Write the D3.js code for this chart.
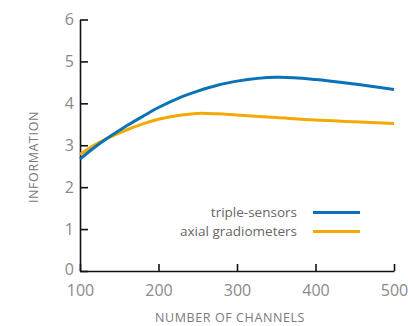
<!DOCTYPE html>
<html>
<head>
<meta charset="utf-8">
<script src="https://cdn.jsdelivr.net/npm/d3@7"></script>
<style>
  body { margin: 0; background: #fff; }
  svg { display: block; font-family: "Open Sans", sans-serif; }
</style>
</head>
<body>
<svg id="chart"></svg>
<script>
// values
var channels = [100, 120, 140, 160, 180, 200, 225, 250, 275, 300, 350, 400, 450, 500];
var tripleSensors = [2.67, 2.97, 3.23, 3.47, 3.69, 3.90, 4.12, 4.29, 4.43, 4.53, 4.62, 4.57, 4.46, 4.33];
var axialGradiometers = [2.78, 3.02, 3.21, 3.37, 3.51, 3.62, 3.71, 3.76, 3.75, 3.72, 3.66, 3.60, 3.56, 3.52];
var seriesNames = ["triple-sensors", "axial gradiometers"];
var seriesColors = ["#0a72b8", "#f2a900"];
var xTickValues = [100, 200, 300, 400, 500];
var yTickValues = [0, 1, 2, 3, 4, 5, 6];

var width = 408,
    height = 326,
    margin = {top: 19.5, right: 14, bottom: 55, left: 80};

var svg = d3.select("#chart")
    .attr("width", width)
    .attr("height", height);

var xScale = d3.scaleLinear()
    .domain([100, 500])
    .range([margin.left, width - margin.right]);

var yScale = d3.scaleLinear()
    .domain([0, 6])
    .range([height - margin.bottom, margin.top]);

var series = [tripleSensors, axialGradiometers].map(function(vals, i) {
    return {
        name: seriesNames[i],
        color: seriesColors[i],
        points: vals.map(function(v, j) { return {x: channels[j], y: v}; })
    };
});

var line = d3.line()
    .curve(d3.curveCatmullRom.alpha(0.5))
    .x(function(d) { return xScale(d.x); })
    .y(function(d) { return yScale(d.y); });

// axes
var xAxis = d3.axisBottom(xScale)
    .tickValues(xTickValues)
    .tickFormat(d3.format("d"))
    .tickSizeInner(-7)
    .tickSizeOuter(0)
    .tickPadding(14);

var yAxis = d3.axisLeft(yScale)
    .tickValues(yTickValues)
    .tickFormat(d3.format("d"))
    .tickSizeInner(-8)
    .tickSizeOuter(0)
    .tickPadding(6);

function styleAxis(g) {
    g.select(".domain").attr("stroke", "#111").attr("stroke-width", 1.6);
    g.selectAll(".tick line").attr("stroke", "#111").attr("stroke-width", 1.6);
    g.selectAll(".tick text")
        .attr("fill", "#8a8a8a")
        .style("font-size", "16px")
        .style("font-family", "'Open Sans', sans-serif");
}

svg.append("g")
    .attr("class", "x axis")
    .attr("transform", "translate(0," + yScale(0) + ")")
    .call(xAxis)
    .call(styleAxis);

svg.append("g")
    .attr("class", "y axis")
    .attr("transform", "translate(" + xScale(100) + ",0)")
    .call(yAxis)
    .call(styleAxis);

// nudge the "0" up a little so it clears the "100" below it
svg.select(".y.axis").selectAll(".tick text")
    .filter(function(d) { return d === 0; })
    .attr("dy", "0.2em");

// lines (orange first so blue sits on top)
svg.append("g")
    .attr("class", "content")
    .selectAll("path")
    .data(series.slice().reverse())
    .enter()
    .append("path")
    .attr("fill", "none")
    .attr("stroke", function(d) { return d.color; })
    .attr("stroke-width", 3)
    .attr("d", function(d) { return line(d.points); });

// axis titles
svg.append("text")
    .attr("x", 230)
    .attr("y", 322)
    .attr("text-anchor", "middle")
    .attr("fill", "#7a7a7a")
    .style("font-size", "12.5px")
    .style("letter-spacing", "0.6px")
    .text("NUMBER OF CHANNELS");

svg.append("text")
    .attr("transform", "translate(38,157) rotate(-90)")
    .attr("text-anchor", "middle")
    .attr("fill", "#7a7a7a")
    .style("font-size", "12.5px")
    .style("letter-spacing", "0.6px")
    .text("INFORMATION");

// legend
var legend = svg.append("g").attr("class", "legend");
series.forEach(function(s, i) {
    var ly = 212.5 + i * 19;
    legend.append("line")
        .attr("x1", 313).attr("x2", 360)
        .attr("y1", ly).attr("y2", ly)
        .attr("stroke", s.color)
        .attr("stroke-width", 3);
    legend.append("text")
        .attr("x", 297)
        .attr("y", ly + 4.5)
        .attr("text-anchor", "end")
        .attr("fill", "#666")
        .style("font-size", "13.5px")
        .text(s.name);
});
</script>
</body>
</html>
